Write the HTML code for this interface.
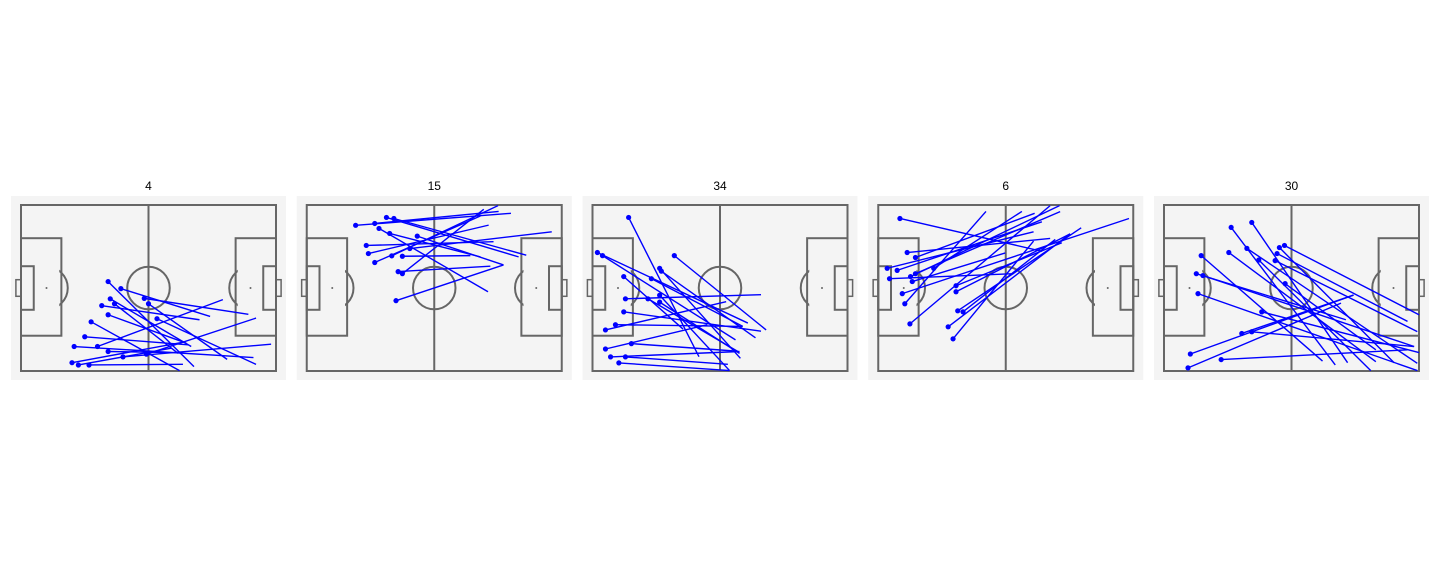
<!DOCTYPE html>
<html><head><meta charset="utf-8"><style>
html,body{margin:0;padding:0;background:#fff;}
svg{display:block;font-family:"Liberation Sans","DejaVu Sans",sans-serif;}
</style></head><body>
<svg id="chart" width="1440" height="576" viewBox="0 0 1440 576"></svg>
<script>
const players = ["4","15","34","6","30"];
const startX = [
 [41,47,58,60,42,44,38,41,33,30,25,36,41,48,59,64,24,27,32],
 [23,32,37.5,41,34,39,28,29,32,40,45,48.5,52,43,45,42],
 [17,2.3,4.7,38.5,31.6,32.4,27.7,14.7,15.5,26.1,31.6,31.6,14.7,10.8,6.1,18.3,6.1,8.5,15.5,12.4],
 [10.2,13.6,17.5,4.2,8.9,26.1,17.5,5.3,15.2,16,11.3,12.5,14.9,36.6,36.6,37.4,39.9,32.9,35.2],
 [31.6,41.3,39,30.5,17.5,44.6,52.3,53.2,54.3,56.7,15.2,18.3,16,57,46,36.6,41.3,12.4,11.3,26.9]
];
const startY = [
 [36.9,40.3,45,47.6,45.2,47.6,48.5,52.9,56.3,63.5,68.2,68.2,70.6,73.2,71.9,54.8,76,77.1,77.1],
 [9.8,8.9,6,6.5,11.3,13.7,19.5,23.4,27.7,24.5,24.7,21,15,32.1,33.1,46.1],
 [6,22.9,24.4,24.4,30.5,31.9,35.5,34.5,45.2,45.2,43.5,46.8,51.5,57.7,60.2,66.8,69.4,73.2,73.2,76.1],
 [6.5,22.9,25.3,30.5,31.5,30.5,33.1,35.5,34.5,36.9,42.7,47.6,57.3,38.9,41.8,51,51.5,58.7,64.5],
 [10.8,8.4,20.9,22.9,24.4,26.5,26.8,23.4,20.5,19.5,33.1,34,42.7,37.9,51.5,61.9,61.1,71.8,78.5,74.5]
];
const endX = [
 [81.4,89,107,97,80.1,73.9,84,77.8,74.6,78.6,109.4,95,70.7,117.7,110.6,110.6,77,70.7,76.2],
 [96.1,90.3,99.7,103.3,85.3,81.7,87.9,85.6,81.7,90,77,115.3,92.6,86.4,83.3,92.6],
 [50.1,73.1,67.3,81.7,69.6,76.7,70.7,42.6,79.3,68.4,64.5,69.2,79.3,70.7,62.9,66,54,69.2,63.7,64.5],
 [77,80.9,73.6,73.1,77,67.6,85.6,63.7,85.3,59.8,118,50.7,80.9,86.4,90.3,95.5,83.3,90.3,73.1],
 [80.6,86.4,119.2,99.7,74.6,97.3,119.2,114.6,108.3,120,85.6,117.7,119.2,99.7,120,89.2,117.7,89.2,83.3,114.6]
];
const endY = [
 [77.9,53.7,52.7,74.4,68.2,71.5,55.3,66.6,79.8,67.4,73.5,45.6,71.1,67.1,54.5,76.8,66,69,76.8],
 [4,3.1,25,24.2,41.8,25,17.7,9.7,5.3,0.3,24.4,12.9,28.9,29.5,2.1,28.9],
 [73.1,56.9,65,60.2,73.9,64,58.5,59.8,43.2,70.6,79.8,71.5,60.8,58.5,46.6,70.3,57.7,70.6,76.8,79.8],
 [22.3,16.1,4,12.9,8.1,3.1,3.2,33.1,0.3,23.1,6.5,3.1,0.3,18.2,13.9,11,16.6,13.9,17.4],
 [77.1,76,76.3,75.5,75.2,79.8,61,56.1,76,52.9,55.3,68.2,79.8,69.8,71.1,43.4,68.2,43.4,47.3,69.8]
];

const NS="http://www.w3.org/2000/svg";
const svg=document.getElementById('chart');
function mk(tag,attrs,parent){const e=document.createElementNS(NS,tag);for(const k in attrs)e.setAttribute(k,attrs[k]);(parent||svg).appendChild(e);return e;}
const PW=255, PH=166;
players.forEach((p,i)=>{
  const ox=21+285.75*i, oy=205;
  const sx=x=>ox+x*PW/120, sy=y=>oy+y*PH/80;
  const g=mk('g',{});
  
  
  const bg=mk('rect',{x:ox-10,y:196,width:275,height:184,fill:'#f4f4f4'},g);
  
  
  const L={fill:'none',stroke:'#666','stroke-width':2};
  const cpid='clip'+i;
  const cp=mk('clipPath',{id:cpid},g);
  mk('rect',{x:sx(18),y:oy,width:sx(102)-sx(18),height:PH},cp);
  mk('circle',Object.assign({cx:sx(12),cy:sy(40),r:10*PW/120,'clip-path':'url(#'+cpid+')'},L),g);
  mk('circle',Object.assign({cx:sx(108),cy:sy(40),r:10*PW/120,'clip-path':'url(#'+cpid+')'},L),g);
  mk('rect',Object.assign({x:ox,y:oy,width:PW,height:PH},L),g);
  mk('line',Object.assign({x1:sx(60),y1:oy,x2:sx(60),y2:oy+PH},L),g);
  mk('circle',Object.assign({cx:sx(60),cy:sy(40),r:10*PW/120},L),g);
  mk('rect',Object.assign({x:sx(0),y:sy(16),width:sx(19)-sx(0),height:sy(63)-sy(16)},L),g);
  mk('rect',Object.assign({x:sx(101),y:sy(16),width:sx(120)-sx(101),height:sy(63)-sy(16)},L),g);
  mk('rect',Object.assign({x:sx(0),y:sy(29.5),width:sx(6)-sx(0),height:sy(50.5)-sy(29.5)},L),g);
  mk('rect',Object.assign({x:sx(114),y:sy(29.5),width:sx(120)-sx(114),height:sy(50.5)-sy(29.5)},L),g);
  mk('rect',Object.assign({x:sx(-2.4),y:sy(36),width:sx(0)-sx(-2.4),height:sy(44)-sy(36)},L,{'stroke-width':1.5}),g);
  mk('rect',Object.assign({x:sx(120),y:sy(36),width:sx(2.4)-sx(0),height:sy(44)-sy(36)},L,{'stroke-width':1.5}),g);
  mk('circle',{cx:sx(12),cy:sy(40),r:1,fill:'#666'},g);
  mk('circle',{cx:sx(108),cy:sy(40),r:1,fill:'#666'},g);
  const t=mk('text',{x:sx(60),y:190,'text-anchor':'middle','font-size':12,fill:'#000'},g);
  t.textContent=p;
  
  
  startX[i].forEach((x0,j)=>{
    const ln=mk('line',{x1:sx(x0),y1:sy(startY[i][j]),x2:sx(endX[i][j]),y2:sy(endY[i][j]),stroke:'#0000ff','stroke-width':1.4},g);
    
    
  });
  startX[i].forEach((x0,j)=>{
    const c=mk('circle',{cx:sx(x0),cy:sy(startY[i][j]),r:2.6,fill:'#0000ff'},g);
    
    
  });
});
</script>
</body></html>
